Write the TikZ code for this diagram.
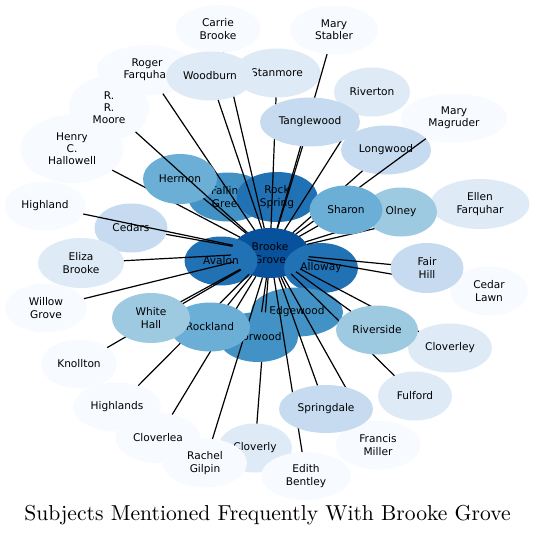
\documentclass[tikz,border=0pt]{standalone}
\usepackage{fontspec}
\usetikzlibrary{shapes.geometric}
\newfontfamily\labfont{DejaVu Sans}
\newfontfamily\titlefont{lmroman10-regular}[Extension=.otf]
\definecolor{ca}{HTML}{F7FBFF}
\definecolor{cb}{HTML}{DEEBF7}
\definecolor{cc}{HTML}{C6DBEF}
\definecolor{cd}{HTML}{9ECAE1}
\definecolor{ce}{HTML}{6BAED6}
\definecolor{cf}{HTML}{4292C6}
\definecolor{cg}{HTML}{2171B5}
\definecolor{ch}{HTML}{08519C}
\tikzset{
  nd/.style={ellipse, inner sep=0pt, outer sep=0pt, align=center, text=black,
    font=\labfont\fontsize{10.6}{12.2}\selectfont},
  ed/.style={line width=1.2pt, black},
}
\begin{document}
\begin{tikzpicture}[x=1pt,y=-1pt]
\useasboundingbox (0,0) rectangle (535,538);
% central stack
\node[nd, fill=cf, minimum width=80pt, minimum height=49pt] (falling) at (228,197) {Falling\\Green};
\node[nd, fill=cg, minimum width=81pt, minimum height=50pt] (rock) at (277,197) {Rock\\Spring};
\node[nd, fill=ch, minimum width=78pt, minimum height=50pt] (bg) at (270,253) {Brooke\\Grove};
\node[nd, fill=cg, minimum width=73pt, minimum height=49pt] (avalon) at (221,261) {Avalon};
\node[nd, fill=cg, minimum width=74pt, minimum height=50pt] (alloway) at (321,268) {Alloway};
\node[nd, fill=cf, minimum width=92pt, minimum height=49pt] (edgewood) at (297,312) {Edgewood};
% outer nodes
\node[nd, fill=ca, minimum width=85pt, minimum height=48pt] (carrie) at (218,29) {Carrie\\Brooke};
\node[nd, fill=ca, minimum width=88pt, minimum height=49pt] (stabler) at (334,30) {Mary\\Stabler};
\node[nd, fill=ca, minimum width=100pt, minimum height=50pt] (roger) at (147,70) {Roger\\Farquhar};
\node[nd, fill=cb, minimum width=87pt, minimum height=49pt] (stanmore) at (277,73) {Stanmore};
\node[nd, fill=cb, minimum width=76pt, minimum height=49pt] (riverton) at (372,92) {Riverton};
\node[nd, fill=ca, minimum width=103pt, minimum height=68pt] (henry) at (72,149) {Henry\\C.\\Hallowell};
\node[nd, fill=ca, minimum width=80pt, minimum height=64pt] (moore) at (109,108) {R.\\R.\\Moore};
\node[nd, fill=ca, minimum width=106pt, minimum height=49pt] (magruder) at (454,118) {Mary\\Magruder};
\node[nd, fill=ca, minimum width=81pt, minimum height=49pt] (highland) at (45,206) {Highland};
\node[nd, fill=cc, minimum width=73pt, minimum height=49pt] (cedars) at (131,228) {Cedars};
\node[nd, fill=cb, minimum width=86pt, minimum height=50pt] (eliza) at (81,263) {Eliza\\Brooke};
\node[nd, fill=ca, minimum width=82pt, minimum height=49pt] (willow) at (46,308) {Willow\\Grove};
\node[nd, fill=cb, minimum width=99pt, minimum height=50pt] (ellen) at (480,204) {Ellen\\Farquhar};
\node[nd, fill=ca, minimum width=78pt, minimum height=49pt] (cedarlawn) at (489,291) {Cedar\\Lawn};
\node[nd, fill=ca, minimum width=76pt, minimum height=49pt] (knollton) at (79,364) {Knollton};
\node[nd, fill=ca, minimum width=88pt, minimum height=49pt] (highlands) at (117,407) {Highlands};
\node[nd, fill=ca, minimum width=85pt, minimum height=50pt] (cloverlea) at (158,438) {Cloverlea};
\node[nd, fill=cb, minimum width=74pt, minimum height=49pt] (cloverly) at (255,448) {Cloverly};
\node[nd, fill=ca, minimum width=84pt, minimum height=49pt] (rachel) at (205,463) {Rachel\\Gilpin};
\node[nd, fill=ca, minimum width=90pt, minimum height=48pt] (edith) at (306,476) {Edith\\Bentley};
\node[nd, fill=ca, minimum width=85pt, minimum height=49pt] (francis) at (378,445) {Francis\\Miller};
\node[nd, fill=cb, minimum width=74pt, minimum height=49pt] (fulford) at (415,396) {Fulford};
\node[nd, fill=cb, minimum width=84pt, minimum height=49pt] (cloverley) at (450,348) {Cloverley};
% top lines
\draw[ed] (carrie) -- (bg);
\draw[ed] (stabler) -- (bg);
\draw[ed] (roger) -- (bg);
\draw[ed] (stanmore) -- (bg);
\draw[ed] (riverton) -- (bg);
\draw[ed] (henry) -- (bg);
\node[nd, fill=cb, minimum width=88pt, minimum height=49pt] (woodburn) at (210,76) {Woodburn};
\draw[ed] (woodburn) -- (bg);
\node[nd, fill=cc, minimum width=100pt, minimum height=49pt] (tangle) at (310,122) {Tanglewood};
\draw[ed] (tangle) -- (bg);
\node[nd, fill=ce, minimum width=74pt, minimum height=50pt] (hermon) at (180,179) {Hermon};
\draw[ed] (hermon) -- (bg);
\draw[ed] (moore) -- (bg);
\node[nd, fill=cc, minimum width=90pt, minimum height=49pt] (longwood) at (386,150) {Longwood};
\draw[ed] (magruder) -- (bg);
\draw[ed] (longwood) -- (bg);
\draw[ed] (ellen) -- (bg);
\node[nd, fill=cd, minimum width=72pt, minimum height=49pt] (olney) at (401,212) {Olney};
\draw[ed] (olney) -- (bg);
\node[nd, fill=ce, minimum width=73pt, minimum height=49pt] (sharon) at (346,210) {Sharon};
\draw[ed] (sharon) -- (bg);
% left lines
\draw[ed] (highland) -- (bg);
\draw[ed] (cedars) -- (bg);
\draw[ed] (eliza) -- (bg);
\draw[ed] (willow) -- (bg);
% bottom
\draw[ed] (cloverly) -- (bg);
\node[nd, fill=cf, minimum width=80pt, minimum height=50pt] (norwood) at (258,337) {Norwood};
\draw[ed] (norwood) -- (bg);
\draw[ed] (rachel) -- (bg);
\draw[ed] (edith) -- (bg);
\draw[ed] (francis) -- (bg);
\node[nd, fill=cc, minimum width=94pt, minimum height=48pt] (springdale) at (326,409) {Springdale};
\draw[ed] (springdale) -- (bg);
\draw[ed] (cloverlea) -- (bg);
\draw[ed] (highlands) -- (bg);
\node[nd, fill=ce, minimum width=80pt, minimum height=49pt] (rockland) at (210,327) {Rockland};
\draw[ed] (rockland) -- (bg);
\draw[ed] (knollton) -- (bg);
\node[nd, fill=cd, minimum width=78pt, minimum height=50pt] (whitehall) at (151,318) {White\\Hall};
\draw[ed] (whitehall) -- (bg);
% right
\draw[ed] (cedarlawn) -- (bg);
\node[nd, fill=cc, minimum width=73pt, minimum height=50pt] (fairhill) at (427,268) {Fair\\Hill};
\draw[ed] (fairhill) -- (bg);
\draw[ed] (cloverley) -- (bg);
\draw[ed] (fulford) -- (bg);
\node[nd, fill=cd, minimum width=82pt, minimum height=49pt] (riverside) at (377,330) {Riverside};
\draw[ed] (riverside) -- (bg);
\draw[ed] (edgewood) -- (bg);
% title
\node[font=\titlefont\fontsize{21.6}{26}\selectfont, inner sep=0pt] (title) at (267.5,515.5) {Subjects Mentioned Frequently With Brooke Grove};
\end{tikzpicture}
\end{document}
